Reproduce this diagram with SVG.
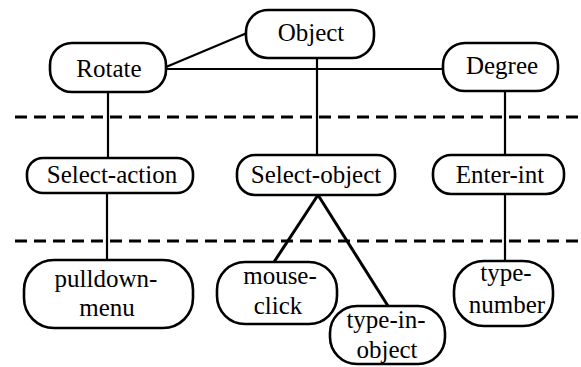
<svg xmlns="http://www.w3.org/2000/svg" width="581" height="367" viewBox="0 0 581 367">
  <style>
    .box { fill: #ffffff; stroke: #000000; stroke-width: 2.6; }
    .lbl { font-family: 'Liberation Serif', 'Liberation Sans', sans-serif; font-size: 25px; fill: #000000; text-anchor: middle; }
    .edge { stroke: #000000; stroke-width: 2.2; fill: none; }
    .fork { stroke: #000000; stroke-width: 3; fill: none; }
    .sep { stroke: #000000; stroke-width: 3; stroke-dasharray: 12 7; fill: none; }
  </style>
  <rect width="581" height="367" fill="#ffffff"/>

  <!-- level separators -->
  <g id="separators">
    <line class="sep" x1="15" y1="117" x2="581" y2="117"/>
    <line class="sep" x1="15" y1="241" x2="581" y2="241"/>
  </g>

  <!-- connectors -->
  <g id="connectors">
    <line class="edge" x1="166" y1="67" x2="247" y2="33"/>
    <line class="edge" x1="166" y1="69" x2="443" y2="69"/>
    <line class="edge" x1="108" y1="92" x2="108" y2="158"/>
    <line class="edge" x1="317" y1="58" x2="317" y2="155"/>
    <line class="edge" x1="505" y1="91" x2="505" y2="155"/>
    <line class="edge" x1="107" y1="193" x2="107" y2="260"/>
    <line class="edge" x1="505" y1="194" x2="505" y2="261"/>
    <line class="fork" x1="318" y1="195" x2="274" y2="262"/>
    <line class="fork" x1="318" y1="195" x2="388" y2="306"/>
  </g>

  <g id="object">
    <rect class="box" x="246" y="10" width="128" height="48" rx="22"/>
    <text class="lbl" x="311" y="41">Object</text>
  </g>
  <g id="rotate">
    <rect class="box" x="50" y="43" width="116" height="49" rx="22"/>
    <text class="lbl" x="109" y="77">Rotate</text>
  </g>
  <g id="degree">
    <rect class="box" x="443" y="43" width="115" height="48" rx="22"/>
    <text class="lbl" x="502" y="74">Degree</text>
  </g>
  <g id="select-action">
    <rect class="box" x="27" y="158" width="166" height="35" rx="16"/>
    <text class="lbl" x="112" y="183">Select-action</text>
  </g>
  <g id="select-object">
    <rect class="box" x="237" y="155" width="158" height="40" rx="18"/>
    <text class="lbl" x="316" y="183">Select-object</text>
  </g>
  <g id="enter-int">
    <rect class="box" x="433" y="155" width="131" height="39" rx="18"/>
    <text class="lbl" x="500" y="183">Enter-int</text>
  </g>
  <g id="pulldown-menu">
    <rect class="box" x="24" y="260" width="169" height="68" rx="30"/>
    <text class="lbl" x="106" y="287">pulldown-</text>
    <text class="lbl" x="107" y="316">menu</text>
  </g>
  <g id="mouse-click">
    <rect class="box" x="217" y="262" width="120" height="62" rx="28"/>
    <text class="lbl" x="280" y="284">mouse-</text>
    <text class="lbl" x="278" y="314">click</text>
  </g>
  <g id="type-in-object">
    <rect class="box" x="330" y="306" width="115" height="58" rx="27"/>
    <text class="lbl" x="386" y="328">type-in-</text>
    <text class="lbl" x="387" y="358">object</text>
  </g>
  <g id="type-number">
    <rect class="box" x="454" y="261" width="99" height="65" rx="30"/>
    <text class="lbl" x="506" y="281">type-</text>
    <text class="lbl" x="507" y="313">number</text>
  </g>
</svg>
